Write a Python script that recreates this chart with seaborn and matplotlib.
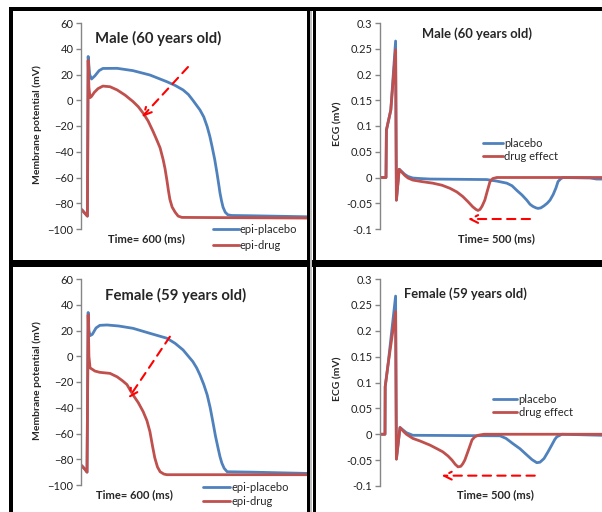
import matplotlib
matplotlib.use("Agg")
import matplotlib.pyplot as plt
import seaborn as sns
import pandas as pd
from matplotlib.patches import Rectangle

# ---------------- data ----------------
# Action potentials (time in ms, membrane potential in mV)
ap_male_t_placebo = [2, 11, 17, 19, 23, 28, 37, 48, 58, 96, 138, 183, 228, 250, 271, 285, 297, 307, 316, 326, 335, 342, 348, 355, 361, 366, 369, 373, 377, 383, 390, 400, 449, 600]
ap_male_v_placebo = [-85, -88, -90, 34, 20, 16.5, 19, 23, 24.7, 24.8, 23, 19.6, 14.4, 11.5, 8, 4.5, 0, -4, -7.6, -13, -20.5, -28, -36, -46, -56.5, -66, -72, -78, -83, -87, -89, -89.5, -89.7, -90.5]
ap_male_t_drug = [2, 11, 17, 19, 21, 24, 28, 35, 45, 58, 77, 96, 117, 138, 152, 165, 178, 191, 200, 210, 218, 223, 228, 232, 236, 242, 250, 258, 268, 600]
ap_male_v_drug = [-85, -88, -90, 31, 10, 2, 3, 6, 9, 11, 10.5, 8, 4, -1, -5, -10, -16, -24, -30, -37, -46, -53, -62, -70, -77, -83, -87, -90, -91, -91.5]

ap_female_t_placebo = [2, 11, 16, 19, 21, 24, 30, 40, 50, 69, 100, 138, 183, 228, 250, 271, 285, 297, 307, 316, 326, 335, 343, 350, 357, 364, 369, 374, 380, 388, 450, 600]
ap_female_v_placebo = [-85, -88, -90, 34, 20, 16, 17, 22, 24, 24.3, 23.5, 21.7, 17.8, 14, 10, 4.9, 0, -4.2, -9, -14.6, -22, -30, -40, -50.8, -62, -71.5, -78, -83, -87, -89.7, -90, -91]
ap_female_t_drug = [2, 11, 16, 19, 21, 24, 37, 50, 77, 96, 110, 122, 130, 138, 152, 165, 175, 183, 190, 196, 203, 210, 220, 228, 600]
ap_female_v_drug = [-85, -88, -90, 32, 0, -9, -11.5, -12.5, -13.3, -16, -19, -22, -26, -30, -36, -43, -50, -58.6, -70, -79, -86, -89.7, -91.5, -92, -92]

# ECG (time in ms, mV)
ecg_male_t_placebo = [0, 15, 16, 27, 39, 41, 48, 55, 62, 70, 82, 100, 125, 267, 292, 317, 330, 342, 355, 367, 375, 382, 390, 395, 402, 410, 418, 425, 433, 440, 445, 451, 457, 525, 542, 555]
ecg_male_v_placebo = [0, 0, 0.092, 0.131, 0.265, -0.044, 0.016, 0.011, 0.006, 0.002, -0.001, -0.002, -0.003, -0.004, -0.007, -0.011, -0.016, -0.025, -0.034, -0.044, -0.052, -0.056, -0.059, -0.060, -0.059, -0.055, -0.050, -0.044, -0.033, -0.020, -0.008, -0.003, 0, -0.001, -0.003, -0.003]
ecg_male_t_drug = [0, 15, 16, 27, 39, 41, 48, 55, 62, 70, 82, 105, 132, 155, 175, 192, 207, 220, 232, 240, 245, 250, 255, 262, 268, 275, 282, 292, 555]
ecg_male_v_drug = [0, 0, 0.092, 0.131, 0.248, -0.044, 0.016, 0.010, 0.004, -0.001, -0.005, -0.008, -0.011, -0.015, -0.021, -0.028, -0.037, -0.047, -0.057, -0.062, -0.064, -0.062, -0.056, -0.044, -0.027, -0.008, -0.002, 0, 0]

ecg_female_t_placebo = [0, 12.5, 13, 20, 39, 41, 50, 58, 66, 82, 300, 315, 332, 350, 367, 380, 392, 400, 410, 420, 430, 437, 442, 455, 555]
ecg_female_v_placebo = [0, 0, 0.092, 0.134, 0.267, -0.048, 0.013, 0.008, 0.003, -0.002, -0.003, -0.008, -0.018, -0.028, -0.040, -0.049, -0.055, -0.054, -0.047, -0.034, -0.020, -0.010, -0.005, 0, -0.002]
ecg_female_t_drug = [0, 12.5, 13, 20, 39, 41, 50, 58, 66, 82, 100, 125, 145, 157, 170, 180, 188, 195, 202, 207, 212, 220, 230, 237, 245, 260, 555]
ecg_female_v_drug = [0, 0, 0.092, 0.134, 0.237, -0.048, 0.013, 0.006, 0.0, -0.008, -0.013, -0.021, -0.029, -0.034, -0.042, -0.050, -0.058, -0.063, -0.062, -0.057, -0.050, -0.033, -0.011, -0.005, -0.002, 0, 0]

ap_ticks = [60, 40, 20, 0, -20, -40, -60, -80, -100]
ecg_ticks = [0.3, 0.25, 0.2, 0.15, 0.1, 0.05, 0, -0.05, -0.1]
ecg_ticklabels = ["0.3", "0.25", "0.2", "0.15", "0.1", "0.05", "0", "-0.05", "-0.1"]

titles_ap = ["Male (60 years old)", "Female (59 years old)"]
titles_ecg = ["Male (60 years old)", "Female (59 years old)"]
ap_labels = ["epi-placebo", "epi-drug"]
ecg_labels = ["placebo", "drug effect"]

# arrows (data coords): (x_tail, y_tail, x_head, y_head)
ap_arrows = [(284, 25.8, 162, -13), (236, 15.2, 126, -32.7)]
ecg_arrows = [(375, -0.0806, 220, -0.0806), (387, -0.080, 154, -0.080)]

BLUE = "#4F81BD"
RED = "#C0504D"

# ---------------- figure ----------------
sns.set_theme(style="white")
plt.rcParams['font.family'] = ['Lato', 'DejaVu Sans']

W, H = 602, 512
fig = plt.figure(figsize=(W / 100, H / 100), dpi=100)
fig.patch.set_facecolor("white")


def fx(x):
    return x / W


def fy(y):
    return 1 - y / H


def add_ax(x0, x1, y0, y1):
    return fig.add_axes([fx(x0), fy(y1), fx(x1) - fx(x0), (y1 - y0) / H])


def style_ax(ax, ylim, ticks, ticklabels=None):
    ax.set_ylim(ylim[1], ylim[0])
    ax.set_yticks(ticks)
    if ticklabels is not None:
        ax.set_yticklabels(ticklabels)
    ax.set_xticks([])
    for s in ["top", "right", "bottom"]:
        ax.spines[s].set_visible(False)
    ax.spines["left"].set_color("#868686")
    ax.spines["left"].set_linewidth(1.0)
    ax.tick_params(axis="y", direction="out", length=3.5, width=1.0, color="#868686",
                   labelsize=8, labelcolor="#222222", pad=2, left=True)
    ax.set_facecolor("white")
    ax.set_xlabel("")
    ax.set_ylabel("")


def draw_lines(ax, t1, v1, t2, v2, labels):
    df1 = pd.DataFrame({"t": t1, "v": v1})
    df2 = pd.DataFrame({"t": t2, "v": v2})
    sns.lineplot(data=df1, x="t", y="v", color=BLUE, lw=2.0, ax=ax, sort=False,
                 estimator=None, label=labels[0])
    sns.lineplot(data=df2, x="t", y="v", color=RED, lw=2.0, ax=ax, sort=False,
                 estimator=None, label=labels[1])
    for ln in ax.get_lines():
        ln.set_solid_joinstyle("round")


def arrow(ax, a):
    ax.annotate("", xy=(a[2], a[3]), xytext=(a[0], a[1]),
                arrowprops=dict(arrowstyle="->", color="#FF0000", lw=1.5,
                                linestyle=(0, (4, 3)), mutation_scale=14,
                                shrinkA=0, shrinkB=0))


def fig_legend(ax, x, y, handlelength, labelspacing, fontsize=8):
    ax.legend(loc="upper left", bbox_to_anchor=(fx(x), fy(y)), bbox_transform=fig.transFigure,
              frameon=False, fontsize=fontsize, handlelength=handlelength, handletextpad=0.1,
              labelspacing=labelspacing, borderpad=0, borderaxespad=0)


# AP panels
ap_axes_px = [(81, 307, 23, 229), (81, 307, 279, 485)]
ap_data = [(ap_male_t_placebo, ap_male_v_placebo, ap_male_t_drug, ap_male_v_drug),
           (ap_female_t_placebo, ap_female_v_placebo, ap_female_t_drug, ap_female_v_drug)]
ap_title_pos = [(158, 38), (176, 295)]
ap_time_pos = [(146, 239), (134, 495)]
ap_ylabel_pos = [(37, 125), (37, 381)]
ap_legend_pos = [(213, 224, 2.3, 0.45), (203, 482, 2.45, 0.3)]

for i in range(2):
    ax = add_ax(*ap_axes_px[i])
    draw_lines(ax, *ap_data[i], ap_labels)
    ax.set_xlim(0, 600)
    style_ax(ax, (60, -100), ap_ticks)
    arrow(ax, ap_arrows[i])
    lx, ly, hl, ls = ap_legend_pos[i]
    fig_legend(ax, lx, ly, hl, ls)
    fig.text(fx(ap_title_pos[i][0]), fy(ap_title_pos[i][1]), titles_ap[i], ha="center", va="center",
             fontsize=10.7, fontweight="bold")
    fig.text(fx(ap_time_pos[i][0]), fy(ap_time_pos[i][1]), "Time= 600 (ms)", ha="center", va="center",
             fontsize=8, fontweight="bold")
    fig.text(fx(ap_ylabel_pos[i][0]), fy(ap_ylabel_pos[i][1]), "Membrane potential (mV)", ha="center",
             va="center", rotation=90, fontsize=7.5, fontweight="bold")

# ECG panels
ecg_axes_px = [(380, 602, 23, 229), (380, 602, 279, 486)]
ecg_data = [(ecg_male_t_placebo, ecg_male_v_placebo, ecg_male_t_drug, ecg_male_v_drug),
            (ecg_female_t_placebo, ecg_female_v_placebo, ecg_female_t_drug, ecg_female_v_drug)]
ecg_title_pos = [(477, 34), (465, 294)]
ecg_time_pos = [(496, 239), (495, 495)]
ecg_ylabel_pos = [(338, 124), (338, 379)]
ecg_legend_pos = [(483, 138, 1.8, 0.15), (493, 394, 2.2, 0.2)]

for i in range(2):
    ax = add_ax(*ecg_axes_px[i])
    draw_lines(ax, *ecg_data[i], ecg_labels)
    ax.set_xlim(0, 555)
    style_ax(ax, (0.3, -0.1), ecg_ticks, ecg_ticklabels)
    arrow(ax, ecg_arrows[i])
    lx, ly, hl, ls = ecg_legend_pos[i]
    fig_legend(ax, lx, ly, hl, ls)
    fig.text(fx(ecg_title_pos[i][0]), fy(ecg_title_pos[i][1]), titles_ecg[i], ha="center", va="center",
             fontsize=9.4, fontweight="bold")
    fig.text(fx(ecg_time_pos[i][0]), fy(ecg_time_pos[i][1]), "Time= 500 (ms)", ha="center", va="center",
             fontsize=8, fontweight="bold")
    fig.text(fx(ecg_ylabel_pos[i][0]), fy(ecg_ylabel_pos[i][1]), "ECG (mV)", ha="center",
             va="center", rotation=90, fontsize=7.5, fontweight="bold")

# panel borders
def band(x0, x1, y0, y1, color="black"):
    fig.add_artist(Rectangle((fx(x0), fy(y1)), fx(x1) - fx(x0), (y1 - y0) / H,
                             transform=fig.transFigure, facecolor=color, edgecolor="none", zorder=10))

band(8.5, 602, 7, 11)
band(8.5, 602, 260, 266.5)
band(8.5, 12.7, 7, 512)
band(310, 312.5, 11, 512, color="#BFBFBF")
band(306.7, 310, 7, 512)
band(312.5, 316, 7, 512)

fig.savefig("out.png", dpi=100, facecolor="white")
